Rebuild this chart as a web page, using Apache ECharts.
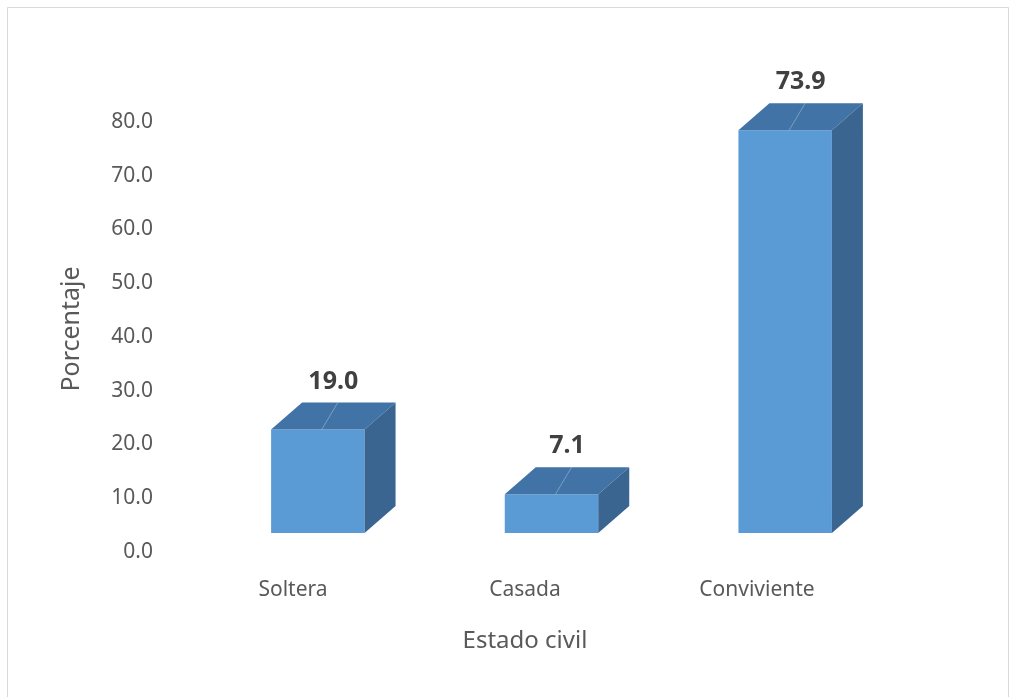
<!DOCTYPE html>
<html><head><meta charset="utf-8">
<script src="https://cdn.jsdelivr.net/npm/echarts@6/dist/echarts.min.js"></script>
<style>html,body{margin:0;padding:0;background:#fff}#c{width:1013px;height:697px}</style>
</head><body><div id="c"></div>
<script>
const categories = ['Soltera', 'Casada', 'Conviviente'];
const values = [19.0, 7.1, 73.9];
const yTicks = [0, 10, 20, 30, 40, 50, 60, 70, 80];

const FONT = '"Noto Sans", "Open Sans", sans-serif';
const DX = 31, DY = 27;

const chart = echarts.init(document.getElementById('c'));
chart.setOption({
  backgroundColor: '#fff',
  animation: false,
  graphic: [{ type: 'rect', shape: { x: 7.5, y: 7.5, width: 1001, height: 700 },
    style: { fill: 'none', stroke: '#d9d9d9', lineWidth: 1 }, silent: true }],
  grid: [
    { left: 177, right: 140, top: 122, bottom: 145 },
    { left: 201, right: 111, top: 97, bottom: 164 }
  ],
  xAxis: [
    { type: 'category', gridIndex: 0, data: categories,
      axisLine: { show: false }, axisTick: { show: false },
      axisLabel: { margin: 28, fontSize: 21, color: '#595959', fontFamily: FONT },
      name: 'Estado civil', nameLocation: 'middle', nameGap: 77,
      nameTextStyle: { fontSize: 24, color: '#595959', fontFamily: FONT } },
    { type: 'category', gridIndex: 1, data: categories, show: false }
  ],
  yAxis: [
    { type: 'value', gridIndex: 0, min: yTicks[0], max: yTicks[yTicks.length - 1], interval: 10,
      axisLine: { show: false }, axisTick: { show: false }, splitLine: { show: false },
      axisLabel: { margin: 24, fontSize: 21, color: '#595959', fontFamily: FONT,
        formatter: v => v.toFixed(1) },
      name: 'Porcentaje', nameLocation: 'middle', nameGap: 93, nameRotate: 90,
      nameTextStyle: { fontSize: 25, color: '#595959', fontFamily: FONT, padding: [0, 0, 0, 16] } },
    { type: 'value', gridIndex: 1, min: yTicks[0], max: yTicks[yTicks.length - 1], show: false }
  ],
  series: [{
    type: 'custom',
    xAxisIndex: 1, yAxisIndex: 1,
    data: values.map((v, i) => [i, v]),
    renderItem: function (params, api) {
      const base = api.coord([api.value(0), 0]);
      const top = api.coord([api.value(0), api.value(1)]);
      const w = api.size([1, 0])[0] * 0.4;
      const cx = base[0];
      const x0 = cx - w / 2, x1 = cx + w / 2;
      const yb = base[1], yt = top[1];
      return {
        type: 'group',
        children: [
          { type: 'polygon', shape: { points: [[x0, yt], [x1, yt], [x1, yb], [x0, yb]] },
            style: { fill: '#5b9bd5' } },
          { type: 'polygon', shape: { points: [[x0, yt], [x0 + DX, yt - DY], [x1 + DX, yt - DY], [x1, yt]] },
            style: { fill: '#4273a6' } },
          { type: 'polygon', shape: { points: [[x1, yt], [x1 + DX, yt - DY], [x1 + DX, yb - DY], [x1, yb]] },
            style: { fill: '#3a6591' } },
          { type: 'line', shape: { x1: cx + 4, y1: yt, x2: cx + 20, y2: yt - DY },
            style: { stroke: 'rgba(255,255,255,0.3)', lineWidth: 1 } },
          { type: 'text', x: cx + DX / 2, y: yt - DY - 21,
            style: { text: api.value(1).toFixed(1), fontSize: 25, fontWeight: 'bold',
              fill: '#404040', fontFamily: FONT, align: 'center', verticalAlign: 'middle' } }
        ]
      };
    }
  }]
});
</script></body></html>
